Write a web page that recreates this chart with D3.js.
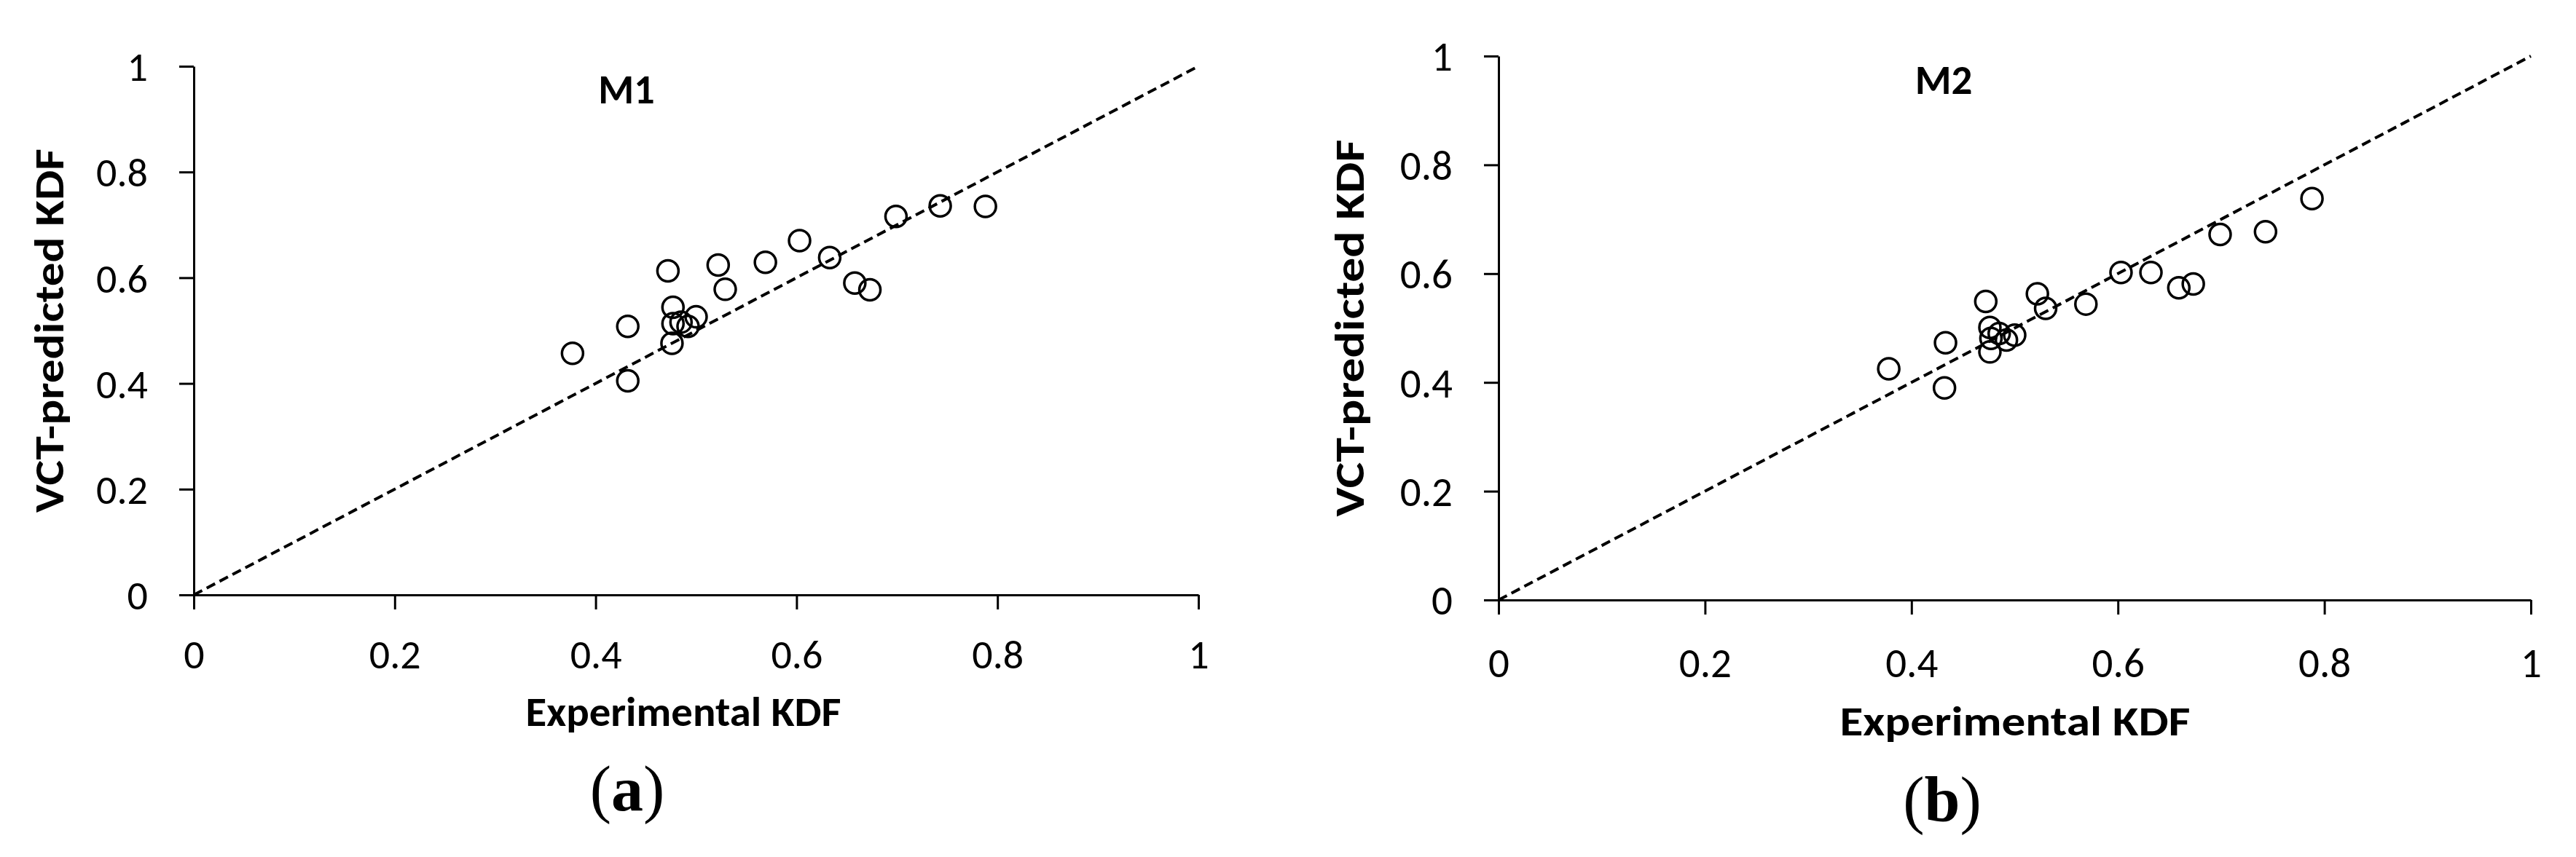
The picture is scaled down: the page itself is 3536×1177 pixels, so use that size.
<!DOCTYPE html>
<html>
<head>
<meta charset="utf-8">
<script src="https://cdn.jsdelivr.net/npm/d3@7"></script>
<style>
  html, body { margin: 0; padding: 0; background: #fff; }
  svg { display: block; }
</style>
</head>
<body>
<svg id="chart" width="3536" height="1177"></svg>
<script>
// ---- data ----
const tickValues = [0, 0.2, 0.4, 0.6, 0.8, 1];
const tickLabels = ["0", "0.2", "0.4", "0.6", "0.8", "1"];

const experimentalA = [0.377, 0.432, 0.432, 0.472, 0.477, 0.476, 0.477, 0.485, 0.492, 0.500,
                       0.522, 0.529, 0.569, 0.603, 0.633, 0.658, 0.673, 0.699, 0.743, 0.788];
const predictedA    = [0.457, 0.405, 0.508, 0.613, 0.544, 0.476, 0.513, 0.516, 0.508, 0.526,
                       0.624, 0.578, 0.629, 0.670, 0.638, 0.590, 0.577, 0.716, 0.736, 0.735];

const experimentalB = [0.378, 0.432, 0.433, 0.472, 0.476, 0.476, 0.477, 0.485, 0.492, 0.500,
                       0.522, 0.530, 0.569, 0.603, 0.632, 0.659, 0.673, 0.699, 0.743, 0.788];
const predictedB    = [0.425, 0.390, 0.473, 0.549, 0.501, 0.456, 0.481, 0.490, 0.478, 0.487,
                       0.563, 0.536, 0.544, 0.602, 0.602, 0.574, 0.581, 0.672, 0.677, 0.738];

const identityLine = [0, 1];

const panels = [
  { title: "M1", label: "a", xs: experimentalA, ys: predictedA,
    x0: 266, x1: 1645, y0: 817, y1: 91,
    xTitleX: 938, xTitleLen: 433, xTitleBase: 180, yTitleBase: 87, yTitleLen: 500,
    tickBase: 101, titleY: 142, titleX: 860, capX: 861, capY: 1113, fs: 56 },
  { title: "M2", label: "b", xs: experimentalB, ys: predictedB,
    x0: 2057, x1: 3474, y0: 824, y1: 77,
    xTitleX: 2766, xTitleLen: 481, xTitleBase: 186, yTitleBase: 1872, yTitleLen: 518,
    tickBase: 106, titleY: 129, titleX: 2668, capX: 2666, capY: 1128, fs: 57 }
];

const svg = d3.select("#chart");
svg.append("rect").attr("width", 3536).attr("height", 1177).attr("fill", "#fff");

const sansFont = "Carlito, Lato, 'Open Sans', sans-serif";
const serifFont = "'Liberation Serif', 'DejaVu Serif', serif";

panels.forEach(p => {
  const x = d3.scaleLinear().domain([0, 1]).range([p.x0, p.x1]);
  const y = d3.scaleLinear().domain([0, 1]).range([p.y0, p.y1]);
  const g = svg.append("g");

  // x axis
  const xa = g.append("g")
    .attr("transform", `translate(0,${p.y0})`)
    .call(d3.axisBottom(x).tickValues(tickValues)
      .tickFormat((d, i) => tickLabels[i]).tickSize(20).tickSizeOuter(0));
  // y axis
  const ya = g.append("g")
    .attr("transform", `translate(${p.x0},0)`)
    .call(d3.axisLeft(y).tickValues(tickValues)
      .tickFormat((d, i) => tickLabels[i]).tickSize(20).tickSizeOuter(0));

  [xa, ya].forEach(a => {
    a.select(".domain").attr("stroke", "#000").attr("stroke-width", 3);
    a.selectAll(".tick line").attr("stroke", "#000").attr("stroke-width", 3);
    a.selectAll(".tick text")
      .attr("font-family", sansFont).attr("font-size", p.fs).attr("fill", "#000");
  });
  xa.selectAll(".tick text").attr("y", p.tickBase).attr("dy", null);
  ya.selectAll(".tick text").attr("x", -63).attr("dy", "0.35em");

  // identity line
  g.append("line")
    .attr("x1", x(identityLine[0])).attr("y1", y(identityLine[0]))
    .attr("x2", x(identityLine[1])).attr("y2", y(identityLine[1]))
    .attr("stroke", "#000").attr("stroke-width", 4)
    .attr("stroke-dasharray", "13,7");

  // points
  g.selectAll("circle.pt").data(p.xs.map((v, i) => [v, p.ys[i]]))
    .enter().append("circle").attr("class", "pt")
    .attr("cx", d => x(d[0])).attr("cy", d => y(d[1]))
    .attr("r", 14.5).attr("fill", "none")
    .attr("stroke", "#000").attr("stroke-width", 3.5);

  // panel title
  g.append("text").text(p.title)
    .attr("x", p.titleX).attr("y", p.titleY)
    .attr("text-anchor", "middle")
    .attr("font-family", sansFont).attr("font-weight", "bold")
    .attr("font-size", p.fs);

  // x title
  g.append("text").text("Experimental KDF")
    .attr("x", p.xTitleX).attr("y", p.y0 + p.xTitleBase)
    .attr("text-anchor", "middle")
    .attr("textLength", p.xTitleLen).attr("lengthAdjust", "spacingAndGlyphs")
    .attr("font-family", sansFont).attr("font-weight", "bold")
    .attr("font-size", p.fs);

  // y title
  const yc = (p.y0 + p.y1) / 2;
  g.append("text").text("VCT-predicted KDF")
    .attr("transform", `translate(${p.yTitleBase},${yc}) rotate(-90)`)
    .attr("text-anchor", "middle")
    .attr("textLength", p.yTitleLen).attr("lengthAdjust", "spacingAndGlyphs")
    .attr("font-family", sansFont).attr("font-weight", "bold")
    .attr("font-size", p.fs);

  // sub-figure caption
  const cap = g.append("text")
    .attr("x", p.capX).attr("y", p.capY)
    .attr("text-anchor", "middle")
    .attr("font-family", serifFont).attr("font-size", 88);
  cap.append("tspan").text("(");
  cap.append("tspan").attr("font-weight", "bold").text(p.label);
  cap.append("tspan").text(")");
});
</script>
</body>
</html>
